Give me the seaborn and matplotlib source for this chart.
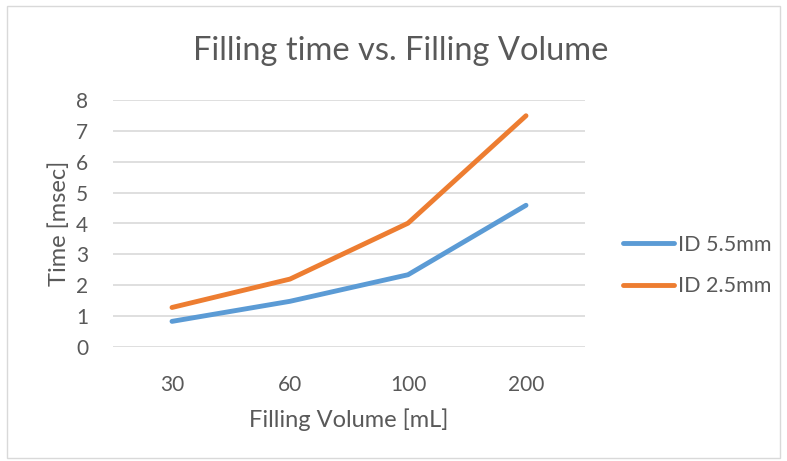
import pandas as pd
import seaborn as sns
import matplotlib.pyplot as plt
from matplotlib.patches import Rectangle

# data
volumes = ['30', '60', '100', '200']
id_55 = [0.83, 1.48, 2.34, 4.59]
id_25 = [1.28, 2.20, 4.01, 7.49]
series_names = ['ID 5.5mm', 'ID 2.5mm']

df = pd.DataFrame({
    'volume': volumes * 2,
    'time': id_55 + id_25,
    'series': [series_names[0]] * 4 + [series_names[1]] * 4,
})

sns.set_style('white')
plt.rcParams['font.family'] = ['Lato', 'DejaVu Sans']
grey = '#595959'

fig = plt.figure(figsize=(7.87, 4.61), dpi=100)
ax = fig.add_axes([113 / 787, 1 - 347 / 461, (585 - 113) / 787, (347 - 100) / 461])

sns.lineplot(data=df, x='volume', y='time', hue='series', sort=False,
             palette=['#5B9BD5', '#ED7D31'], linewidth=3.5, ax=ax)

ax.set_ylim(0, 8)
ax.set_xlim(-0.5, 3.5)
ax.set_yticks(range(0, 9))
ax.yaxis.grid(True, color='#D9D9D9', linewidth=1.2)
ax.set_axisbelow(True)
for s in ax.spines.values():
    s.set_visible(False)
ax.tick_params(axis='both', length=0, labelsize=15, colors=grey)
ax.tick_params(axis='x', pad=20)
ax.tick_params(axis='y', pad=18)

ax.set_xlabel('Filling Volume [mL]', fontsize=17, color=grey, labelpad=10)
ax.set_ylabel('Time [msec]', fontsize=17, color=grey, labelpad=4)

fig.text(401 / 787, 1 - 51 / 461, 'Filling time vs. Filling Volume',
         ha='center', va='center', fontsize=23.5, color=grey)

leg = ax.legend(loc='center left', bbox_to_anchor=(1.039, 0.33), frameon=False,
                fontsize=15.5, handlelength=2.4, handletextpad=0.15,
                labelspacing=1.0, labelcolor=grey)
for line in leg.get_lines():
    line.set_linewidth(3.5)

# outer chart border
fig.patches.append(Rectangle((7 / 787, 3 / 461), 773 / 787, 452 / 461,
                             transform=fig.transFigure, fill=False,
                             edgecolor='#D9D9D9', linewidth=1))

plt.savefig('out.png', dpi=100)
